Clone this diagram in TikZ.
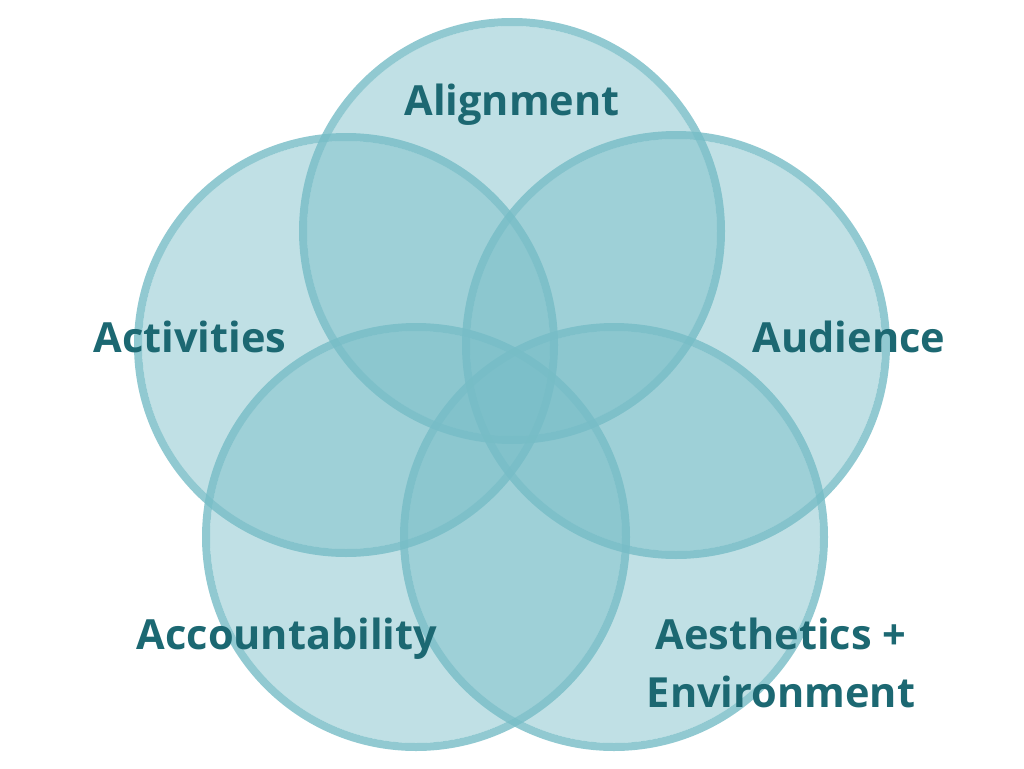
\documentclass[tikz,border=0pt]{standalone}
\usepackage{fontspec}
\setmainfont{Open Sans}[BoldFont={* Bold}]
\definecolor{tealbase}{RGB}{118,188,198}
\definecolor{tealtext}{RGB}{28,104,114}
\begin{document}
\begin{tikzpicture}[x=1pt,y=-1pt,
  ringfill/.style={fill=tealbase,fill opacity=0.46},
  ringline/.style={draw=tealbase,draw opacity=0.8,line width=8pt},
  lbl/.style={text=tealtext,font=\bfseries\fontsize{41.5}{58}\selectfont,align=center,inner sep=0pt}]
\useasboundingbox (0,0) rectangle (1024,768);
\foreach \x/\y/\r in {512/231/209, 346/345/208, 676/345/210, 416/537/210, 614/537/210}{
  \path[ringfill] (\x,\y) circle (\r-4);
  \path[ringline] (\x,\y) circle (\r);
}
\node[lbl] (alignment) at (512,105) {Alignment};
\node[lbl] (activities) at (190,337) {Activities};
\node[lbl] (audience) at (849,337) {Audience};
\node[lbl] (accountability) at (287,639) {Accountability};
\node[lbl] (aesthetics) at (781,663) {Aesthetics +\\Environment};
\end{tikzpicture}
\end{document}
